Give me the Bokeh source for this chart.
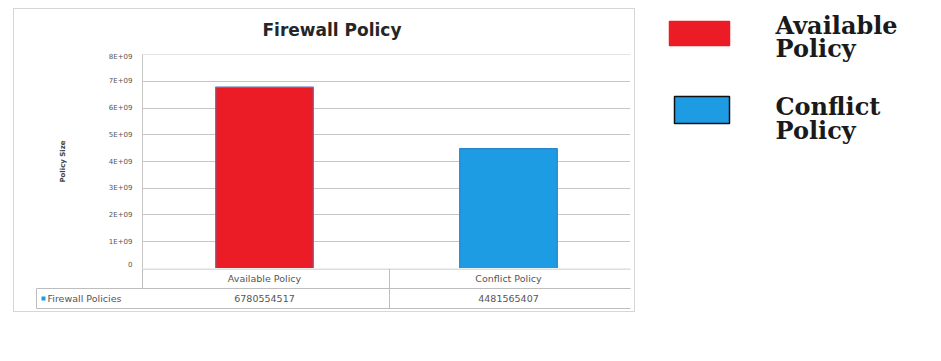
from bokeh.plotting import figure
from bokeh.layouts import row, column
from bokeh.models import FactorRange, Range1d, FixedTicker, ColumnDataSource
from bokeh.core.properties import value
from bokeh.embed import file_html
from bokeh.resources import INLINE

# ---------------- data ----------------
TITLE = "Firewall Policy"
CATEGORIES = ["Available Policy", "Conflict Policy"]
VALUES = [6780554517, 4481565407]
SERIES_NAME = "Firewall Policies"
BAR_COLORS = ["#ec1c26", "#1d9be3"]
BAR_EDGES = ["#5a6fb0", "#2a86c8"]
Y_LABEL = "Policy Size"
Y_TICKS = [0, 1000000000, 2000000000, 3000000000, 4000000000,
           5000000000, 6000000000, 7000000000, 8000000000]
Y_TICK_LABELS = ["0", "1E+09", "2E+09", "3E+09", "4E+09",
                 "5E+09", "6E+09", "7E+09", "8E+09"]

# ---------------- layout (picture pixels) ----------------
BOX_L, BOX_T = 13, 8          # outer chart box
IN_L, IN_R = 14, 634          # inside the box border
IN_T = BOX_T + 1
FL, FT, FR, FB = 142, 54, 630, 268   # plot area
MAIN_TOP = FT - 2             # main figure starts 2px above its frame
TBL_B = 311                   # bottom of data table figure
TOTAL_W = 925
YMAX = Y_TICKS[-1]
EPS = YMAX * 1e-4             # so that the edge grid lines are drawn
CATW = (FR - FL) / len(CATEGORIES)
GRID = "#c6c6c6"
TXT = "#555555"


def X(px):
    return (px - FL) / CATW


def bare(fig):
    fig.outline_line_color = None
    return fig


# ---------------- title strip ----------------
ttl = bare(figure(x_range=Range1d(IN_L, IN_R), y_range=Range1d(MAIN_TOP, IN_T),
                  width=IN_R - IN_L, height=MAIN_TOP - IN_T, min_border=0,
                  min_border_left=0, min_border_right=0, min_border_top=0,
                  min_border_bottom=0, x_axis_type=None, y_axis_type=None,
                  output_backend="svg", toolbar_location=None))
ttl.text(x=[331.5], y=[29.5], text=[TITLE], text_font=value("DejaVu Sans"),
         text_font_size="17px", text_font_style="bold", text_color="#262626",
         text_align="center", text_baseline="middle")

# ---------------- main plot ----------------
main = figure(x_range=FactorRange(*CATEGORIES), y_range=Range1d(-EPS, YMAX + EPS),
              width=IN_R - IN_L, height=FB - MAIN_TOP,
              min_border_left=FL - IN_L, min_border_right=IN_R - FR,
              min_border_top=FT - MAIN_TOP, min_border_bottom=0,
              output_backend="svg", toolbar_location=None)
main.outline_line_color = None

src = ColumnDataSource(dict(cat=CATEGORIES, val=VALUES, color=BAR_COLORS, edge=BAR_EDGES))
main.vbar(x="cat", top="val", width=0.4, source=src, fill_color="color",
          line_color="edge", line_width=1.2)

main.xaxis.visible = False
main.xgrid.grid_line_color = None
main.ygrid.ticker = FixedTicker(ticks=Y_TICKS)
main.ygrid.grid_line_color = GRID

ya = main.yaxis[0]
ya.ticker = FixedTicker(ticks=Y_TICKS)
ya.major_label_overrides = {t: s for t, s in zip(Y_TICKS, Y_TICK_LABELS)}
ya.major_label_text_font = "DejaVu Sans"
ya.major_label_text_font_size = "7px"
ya.major_label_text_color = TXT
ya.major_label_standoff = 10
ya.major_tick_line_color = None
ya.major_tick_out = 0
ya.major_tick_in = 0
ya.minor_tick_line_color = None
ya.minor_tick_out = 0
ya.axis_line_color = GRID
ya.axis_label = Y_LABEL
ya.axis_label_text_font = "DejaVu Sans"
ya.axis_label_text_font_size = "7px"
ya.axis_label_text_font_style = "bold"
ya.axis_label_text_color = "#444444"
ya.axis_label_standoff = 39

# ---------------- data table under the plot ----------------
tbl = bare(figure(x_range=Range1d(X(IN_L), X(IN_R)), y_range=Range1d(TBL_B - FB, 0),
                  width=IN_R - IN_L, height=TBL_B - FB, min_border=0,
                  min_border_left=0, min_border_right=0, min_border_top=0,
                  min_border_bottom=0, x_axis_type=None, y_axis_type=None,
                  output_backend="svg", toolbar_location=None))

SEG = [(FL, FB + 0.5, FR, FB + 0.5), (FL, FB, FL, 288), (389, FB, 389, 308),
       (36, 288, FR, 288), (36, 308, FR, 308), (36, 288, 36, 308)]
tbl.segment(x0=[X(s[0]) for s in SEG], y0=[s[1] - FB for s in SEG],
            x1=[X(s[2]) for s in SEG], y1=[s[3] - FB for s in SEG],
            line_color="#bdbdbd", line_width=1)

centers = [i + 0.5 for i in range(len(CATEGORIES))]
tbl.text(x=centers, y=[278 - FB] * len(CATEGORIES), text=CATEGORIES,
         text_font=value("DejaVu Sans"), text_font_size="9.5px", text_color=TXT,
         text_align="center", text_baseline="middle")
tbl.text(x=centers, y=[298 - FB] * len(VALUES), text=[str(v) for v in VALUES],
         text_font=value("DejaVu Sans"), text_font_size="9.5px", text_color=TXT,
         text_align="center", text_baseline="middle")
tbl.quad(left=[X(41)], right=[X(45)], top=[296 - FB], bottom=[300 - FB],
         fill_color=BAR_COLORS[1], line_color=None)
tbl.text(x=[X(47)], y=[298 - FB], text=[SERIES_NAME],
         text_font=value("DejaVu Sans"), text_font_size="9.5px", text_color=TXT,
         text_align="left", text_baseline="middle")

# wrap each figure separately so their frames are not aligned with each other
chart = column(row(ttl), row(main), row(tbl), margin=(BOX_T, 0, 0, BOX_L),
               styles={"border": "1px solid #d6d6d6"})

# ---------------- legend at the right ----------------
LX0 = IN_R + 1
leg = bare(figure(x_range=Range1d(LX0, TOTAL_W), y_range=Range1d(TBL_B + 1, 0),
                  width=TOTAL_W - LX0, height=TBL_B + 1, min_border=0,
                  min_border_left=0, min_border_right=0, min_border_top=0,
                  min_border_bottom=0, x_axis_type=None, y_axis_type=None,
                  output_backend="svg", toolbar_location=None))
leg.quad(left=[669, 674], right=[729, 729], top=[21, 96], bottom=[45, 123],
         fill_color=BAR_COLORS, line_color=[BAR_COLORS[0], "#111111"], line_width=1.5)
LEG_BASE = [(25, 48), (106, 130)]
lx, ly, lt = [], [], []
for cat, ys in zip(CATEGORIES, LEG_BASE):
    for word, yy in zip(cat.split(" "), ys):
        lx.append(775)
        ly.append(yy)
        lt.append(word)
leg.text(x=lx, y=ly, text=lt, text_font=value("DejaVu Serif"), text_font_size="24px",
         text_font_style="bold", text_color="#1a1a1a", text_align="left",
         text_baseline="alphabetic")

root = row(chart, leg)
open("out.html", "w").write(file_html(root, INLINE))
